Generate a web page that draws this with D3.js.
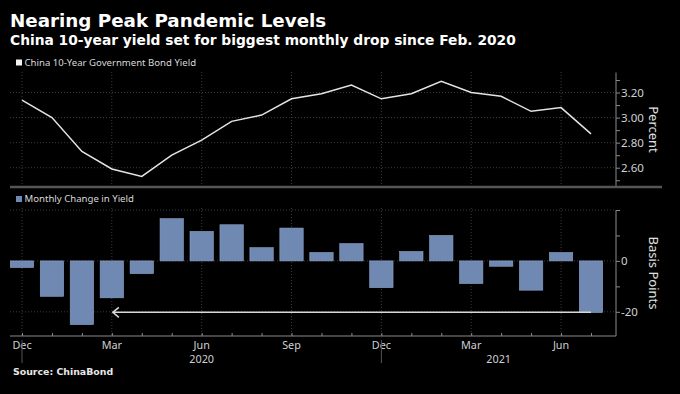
<!DOCTYPE html>
<html>
<head>
<meta charset="utf-8">
<script src="https://cdn.jsdelivr.net/npm/d3@7"></script>
<style>
  html, body { margin: 0; padding: 0; background: #000; }
  svg { display: block; }
</style>
</head>
<body>
<svg id="chart" width="680" height="394"></svg>
<script>
// data
const months = [
  "Dec 2019", "Jan 2020", "Feb 2020", "Mar 2020", "Apr 2020", "May 2020", "Jun 2020",
  "Jul 2020", "Aug 2020", "Sep 2020", "Oct 2020", "Nov 2020", "Dec 2020",
  "Jan 2021", "Feb 2021", "Mar 2021", "Apr 2021", "May 2021", "Jun 2021", "Jul 2021"
];
const yieldPct = [3.14, 3.00, 2.73, 2.59, 2.53, 2.70, 2.82, 2.97, 3.02, 3.15,
  3.19, 3.26, 3.15, 3.19, 3.29, 3.20, 3.17, 3.05, 3.08, 2.87];
const changeBp = [-2.6, -13.9, -25.0, -14.5, -5.0, 16.6, 11.6, 14.2, 5.2, 12.9,
  3.3, 6.8, -10.5, 3.7, 10.0, -8.9, -2.1, -11.5, 3.3, -20.3];

const majorMonths = ["Dec 2019", "Mar 2020", "Jun 2020", "Sep 2020", "Dec 2020", "Mar 2021", "Jun 2021"];
const yearStarts = ["Dec 2019", "Dec 2020"];
const yearLabels = ["2020", "2021"];
const yieldTicks = [2.6, 2.8, 3.0, 3.2];
const yieldMinorTicks = [2.5, 2.6, 2.7, 2.8, 2.9, 3.0, 3.1, 3.2, 3.3];
const changeTicks = [-20, 0];
const changeMinorTicks = [-20, -10, 0, 10, 20];
const arrowFrom = "Jul 2021";
const arrowTo = "Mar 2020";
const arrowLevel = -20.2;

const svg = d3.select("#chart");
const plotLeft = 10, plotRight = 616;
const gridColor = "#3a3a3a", axisColor = "#8a8a8a", tickText = "#d0d0d0";
const tickFont = "Noto Sans, sans-serif";

// x scale: one point per month
const x = d3.scalePoint().domain(months).range([22, 591]);
const barWidth = x.step() * 0.78;

// y scales for the two panels
const yTop = d3.scaleLinear().domain([2.45, 3.36]).range([186.5, 72.5]);
const yBot = d3.scaleLinear().domain([-29.5, 20]).range([336, 210]);

// titles
svg.append("text").attr("x", 10).attr("y", 27)
  .attr("fill", "#fff").attr("font-family", "DejaVu Sans, sans-serif")
  .attr("font-weight", "bold").attr("font-size", 18.3)
  .text("Nearing Peak Pandemic Levels");
svg.append("text").attr("x", 10).attr("y", 45)
  .attr("fill", "#fff").attr("font-family", "DejaVu Sans, sans-serif")
  .attr("font-weight", "bold").attr("font-size", 13.8)
  .text("China 10-year yield set for biggest monthly drop since Feb. 2020");

// legends
const legend = (y, color, label) => {
  svg.append("rect").attr("x", 16).attr("y", y - 6).attr("width", 6).attr("height", 6).attr("fill", color);
  svg.append("text").attr("x", 24.5).attr("y", y)
    .attr("fill", "#d8d8d8").attr("font-family", tickFont).attr("font-size", 9.6)
    .text(label);
};
legend(65.5, "#f2f2f2", "China 10-Year Government Bond Yield");
legend(202, "#7089b2", "Monthly Change in Yield");

// gridlines
const grid = svg.append("g").attr("stroke", gridColor).attr("stroke-dasharray", "1,2").attr("stroke-width", 1);
majorMonths.forEach(m => {
  grid.append("line").attr("x1", x(m)).attr("x2", x(m)).attr("y1", 72).attr("y2", 186);
  grid.append("line").attr("x1", x(m)).attr("x2", x(m)).attr("y1", 208).attr("y2", 336);
});
yieldTicks.forEach(v => {
  grid.append("line").attr("x1", plotLeft).attr("x2", plotRight).attr("y1", yTop(v)).attr("y2", yTop(v));
});
[-20, 0, 20].forEach(v => {
  grid.append("line").attr("x1", plotLeft).attr("x2", plotRight).attr("y1", yBot(v)).attr("y2", yBot(v));
});

// top panel: yield line
const line = d3.line()
  .x((d, i) => x(months[i]))
  .y(d => yTop(d));
svg.append("path").datum(yieldPct)
  .attr("d", line)
  .attr("fill", "none")
  .attr("stroke", "#e4e4e4")
  .attr("stroke-width", 1.5);

// top y axis
const axTop = svg.append("g").attr("transform", `translate(${plotRight},0)`);
axTop.call(d3.axisRight(yTop).tickValues(yieldMinorTicks).tickSize(4).tickFormat(""));
axTop.call(g => g.select(".domain").remove());
axTop.selectAll(".tick line").attr("stroke", axisColor);
axTop.append("line").attr("y1", 72.5).attr("y2", 186.5).attr("stroke", axisColor);
yieldTicks.forEach(v => {
  axTop.append("text").attr("x", 5).attr("y", yTop(v)).attr("dy", "0.35em")
    .attr("fill", tickText).attr("font-family", tickFont).attr("font-size", 11.5)
    .text(d3.format(".2f")(v));
});
svg.append("text")
  .attr("transform", `translate(649,${(yTop.range()[0] + yTop.range()[1]) / 2}) rotate(90)`)
  .attr("text-anchor", "middle")
  .attr("fill", "#e0e0e0").attr("font-family", tickFont).attr("font-size", 13)
  .text("Percent");

// separator between panels
svg.append("line").attr("x1", 10).attr("x2", 662).attr("y1", 187).attr("y2", 187)
  .attr("stroke", "#555").attr("stroke-width", 2.5);

// bottom panel: bars
svg.append("g").selectAll("rect")
  .data(changeBp)
  .join("rect")
  .attr("x", (d, i) => x(months[i]) - barWidth / 2)
  .attr("width", barWidth)
  .attr("y", d => yBot(Math.max(0, d)))
  .attr("height", d => Math.abs(yBot(d) - yBot(0)))
  .attr("fill", "#7089b2")
  .attr("stroke", "#8ea3c6")
  .attr("stroke-width", 0.6);

// arrow annotation
const ay = yBot(arrowLevel);
svg.append("line").attr("x1", x(arrowFrom)).attr("x2", x(arrowTo) + 1).attr("y1", ay).attr("y2", ay)
  .attr("stroke", "#d8d8d8").attr("stroke-width", 1.5);
svg.append("path")
  .attr("d", `M${x(arrowTo) + 7},${ay - 5} L${x(arrowTo) + 1},${ay} L${x(arrowTo) + 7},${ay + 5}`)
  .attr("fill", "none").attr("stroke", "#d8d8d8").attr("stroke-width", 1.5);

// bottom y axis
const axBot = svg.append("g").attr("transform", `translate(${plotRight},0)`);
axBot.call(d3.axisRight(yBot).tickValues(changeMinorTicks).tickSize(4).tickFormat(""));
axBot.call(g => g.select(".domain").remove());
axBot.selectAll(".tick line").attr("stroke", axisColor);
axBot.append("line").attr("y1", 210).attr("y2", 336).attr("stroke", axisColor);
changeTicks.forEach(v => {
  axBot.append("text").attr("x", 5).attr("y", yBot(v)).attr("dy", "0.35em")
    .attr("fill", tickText).attr("font-family", tickFont).attr("font-size", 11.5)
    .text(v);
});
svg.append("text")
  .attr("transform", `translate(649,${(yBot.range()[0] + yBot.range()[1]) / 2}) rotate(90)`)
  .attr("text-anchor", "middle")
  .attr("fill", "#e0e0e0").attr("font-family", tickFont).attr("font-size", 13)
  .text("Basis Points");

// x axis
const axX = svg.append("g").attr("transform", "translate(0,336)");
axX.call(d3.axisTop(x).tickSize(3).tickFormat(""));
axX.call(g => g.select(".domain").remove());
axX.selectAll(".tick line").attr("stroke", axisColor);
axX.append("line").attr("x1", plotLeft).attr("x2", plotRight).attr("stroke", axisColor).attr("stroke-width", 1.2);
majorMonths.forEach(m => {
  axX.append("text").attr("x", x(m)).attr("y", 12.5)
    .attr("text-anchor", "middle")
    .attr("fill", tickText).attr("font-family", tickFont).attr("font-size", 10.8)
    .text(m.split(" ")[0]);
});
yearStarts.forEach((m, i) => {
  axX.append("line").attr("x1", x(m)).attr("x2", x(m)).attr("y1", 4).attr("y2", 27)
    .attr("stroke", "#555");
  const end = i + 1 < yearStarts.length ? x(yearStarts[i + 1]) : plotRight;
  axX.append("text").attr("x", (x(m) + end) / 2).attr("y", 26.5)
    .attr("text-anchor", "middle")
    .attr("fill", tickText).attr("font-family", tickFont).attr("font-size", 10.8)
    .text(yearLabels[i]);
});

// source
svg.append("text").attr("x", 13).attr("y", 375)
  .attr("fill", "#e8e8e8").attr("font-family", "DejaVu Sans, sans-serif")
  .attr("font-weight", "bold").attr("font-size", 9.4)
  .text("Source: ChinaBond");
</script>
</body>
</html>
